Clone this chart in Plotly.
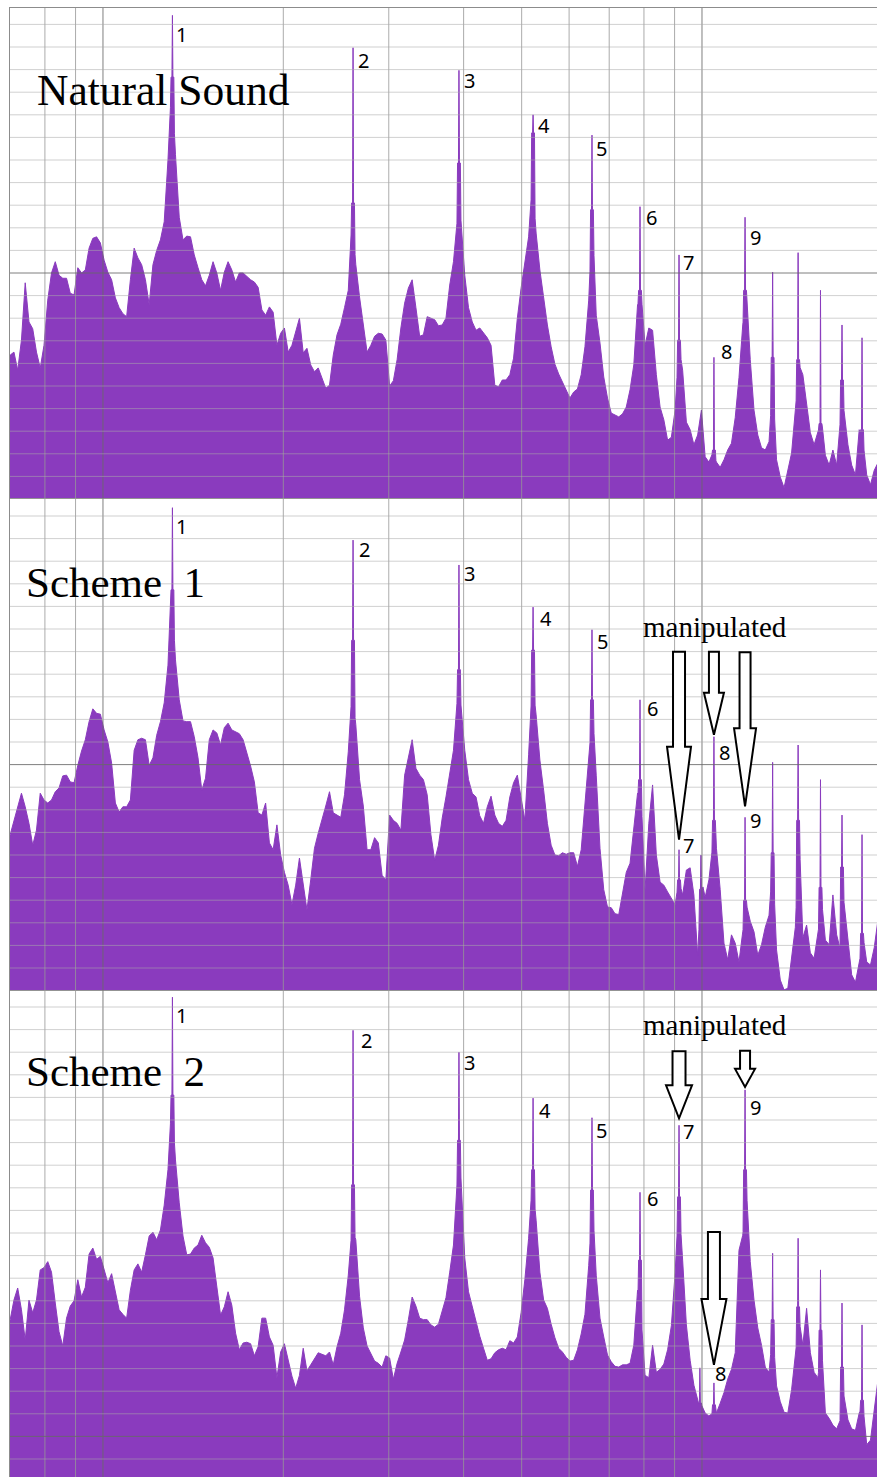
import numpy as np
import plotly.graph_objects as go

# ---------------------------------------------------------------- data
# analysis bins of the spectrum: quarter-semitone steps starting at 70 Hz
bin_hz = 70.0 * 2.0 ** (np.arange(232) / 48.0)

natural_db = [
    -46.9, -46.5, -48.9, -44.9, -37.3, -42.5, -43.4, -46.5, -48.6, -45.6,
    -39.6, -36.0, -34.5, -36.3, -36.7, -36.7, -38.7, -38.9, -35.3, -36.0,
    -35.6, -32.7, -31.4, -31.2, -32.0, -34.3, -35.9, -36.9, -39.3, -40.6,
    -41.4, -41.8, -36.9, -32.7, -34.0, -34.9, -36.9, -40.2, -34.9, -33.0,
    -31.6, -29.2, -21.0, -10.4, -20.3, -28.6, -31.6, -31.1, -31.2, -33.6,
    -35.3, -36.9, -37.7, -36.3, -34.5, -36.0, -38.3, -35.9, -34.5, -35.6,
    -37.2, -36.0, -36.0, -36.5, -36.9, -37.2, -37.9, -40.9, -41.6, -40.5,
    -41.2, -45.6, -44.0, -43.3, -46.5, -45.6, -43.8, -42.0, -46.6, -46.0,
    -48.2, -49.1, -48.6, -49.9, -51.3, -50.9, -46.9, -44.2, -42.8, -40.6,
    -38.3, -28.3, -34.9, -39.2, -42.9, -46.5, -45.6, -44.4, -44.0, -44.1,
    -44.9, -51.0, -50.3, -47.5, -43.3, -40.0, -38.0, -36.9, -40.6, -44.4,
    -44.2, -41.8, -42.0, -42.2, -43.0, -42.9, -42.0, -37.6, -34.5, -29.0,
    -29.0, -36.3, -40.6, -42.5, -43.6, -43.3, -44.0, -44.6, -45.6, -50.9,
    -51.1, -50.2, -50.2, -49.5, -47.3, -42.0, -38.0, -34.9, -31.2, -23.7,
    -30.7, -35.6, -39.6, -42.9, -45.8, -48.1, -49.4, -50.5, -51.5, -52.6,
    -51.8, -51.4, -49.5, -45.8, -39.6, -28.3, -41.6, -45.3, -49.8, -52.6,
    -54.6, -54.9, -55.1, -54.7, -53.8, -51.5, -48.2, -40.2, -38.9, -45.6,
    -43.3, -43.6, -49.5, -53.8, -55.5, -58.2, -57.8, -54.2, -45.6, -48.9,
    -55.8, -56.8, -58.8, -57.5, -54.2, -60.4, -61.1, -59.9, -61.1, -61.8,
    -60.8, -59.5, -58.6, -55.2, -49.9, -42.9, -38.3, -47.5, -54.2, -57.5,
    -59.2, -59.5, -58.4, -50.2, -60.8, -63.1, -64.5, -62.4, -59.9, -54.2,
    -48.2, -49.5, -53.5, -57.2, -58.8, -57.1, -55.5, -60.2, -61.5, -59.5,
    -61.5, -55.5, -54.2, -58.8, -61.5, -62.8, -56.8, -58.2, -62.8, -64.1,
    -62.2, -61.2,
]

scheme1_db = [
    -45.3, -43.4, -41.5, -39.8, -41.6, -43.8, -46.7, -44.7, -39.8, -40.7,
    -41.1, -40.7, -39.6, -39.1, -37.5, -37.4, -38.3, -38.4, -36.1, -34.2,
    -32.7, -30.3, -28.6, -29.2, -29.3, -31.4, -33.0, -35.8, -41.1, -42.3,
    -41.6, -41.6, -40.7, -34.1, -32.7, -32.5, -32.7, -36.1, -35.1, -32.1,
    -30.3, -27.8, -22.8, -12.8, -22.1, -27.4, -30.2, -30.3, -30.3, -32.3,
    -35.1, -39.4, -37.8, -32.7, -31.4, -31.8, -33.4, -31.1, -30.5, -31.4,
    -31.7, -31.9, -32.7, -34.3, -36.2, -38.3, -42.4, -42.7, -41.1, -46.4,
    -47.3, -44.0, -48.0, -50.3, -52.0, -54.6, -52.0, -48.4, -52.0, -55.3,
    -51.3, -47.1, -45.1, -43.1, -41.5, -39.6, -42.4, -42.7, -43.0, -40.0,
    -34.3, -26.1, -30.7, -38.0, -41.5, -47.3, -47.3, -45.7, -46.4, -50.7,
    -51.3, -42.7, -43.4, -43.8, -44.7, -37.4, -35.0, -32.7, -36.5, -37.4,
    -38.0, -40.0, -45.3, -48.7, -46.7, -43.1, -40.3, -37.4, -34.1, -27.4,
    -28.1, -34.1, -38.0, -39.8, -40.3, -42.8, -43.8, -41.6, -40.2, -42.7,
    -43.8, -44.2, -43.4, -40.3, -38.4, -37.4, -40.4, -43.4, -34.7, -24.8,
    -29.4, -35.4, -39.4, -43.8, -46.7, -48.0, -48.1, -47.7, -47.9, -47.7,
    -47.7, -49.5, -47.3, -41.4, -35.7, -28.1, -37.4, -47.1, -52.6, -54.9,
    -55.0, -55.8, -55.9, -53.3, -50.3, -49.1, -44.4, -39.8, -40.7, -52.6,
    -43.8, -38.7, -48.0, -51.6, -52.0, -52.9, -53.7, -54.6, -51.3, -53.3,
    -50.0, -49.7, -53.3, -61.3, -51.3, -53.6, -51.3, -46.7, -47.1, -52.6,
    -59.7, -61.9, -58.6, -59.7, -62.2, -58.2, -54.6, -56.8, -58.2, -61.3,
    -59.9, -57.6, -56.0, -48.7, -60.6, -64.6, -65.9, -65.7, -61.7, -57.6,
    -44.7, -59.0, -57.3, -61.0, -61.7, -58.6, -54.0, -59.3, -59.9, -53.3,
    -58.6, -60.6, -54.0, -59.0, -63.9, -64.9, -62.6, -58.6, -62.2, -62.6,
    -60.3, -56.6,
]

scheme2_db = [
    -20.5, -17.9, -16.3, -19.2, -23.2, -17.9, -19.6, -17.9, -13.9, -13.6,
    -12.8, -14.2, -18.3, -22.1, -24.0, -20.3, -18.7, -18.0, -15.2, -17.5,
    -16.2, -11.8, -11.0, -12.5, -12.1, -13.9, -15.6, -14.4, -16.7, -19.2,
    -19.8, -20.3, -16.6, -13.9, -13.1, -14.2, -11.9, -9.4, -8.9, -9.9,
    -8.6, -5.3, -0.6, 8.7, 0.7, -5.0, -9.4, -11.9, -11.8, -11.0,
    -10.6, -9.3, -10.3, -10.9, -12.3, -16.2, -19.9, -18.8, -16.8, -18.6,
    -22.3, -24.5, -23.6, -23.5, -23.7, -25.3, -24.1, -20.3, -20.3, -22.8,
    -23.9, -28.2, -24.8, -23.7, -25.9, -28.0, -29.6, -27.9, -24.3, -27.3,
    -26.5, -25.6, -24.9, -25.1, -25.3, -24.8, -26.5, -24.1, -22.3, -19.2,
    -14.6, -8.3, -9.9, -17.4, -21.6, -24.0, -25.1, -26.0, -26.3, -26.8,
    -25.3, -25.6, -28.4, -26.3, -24.8, -23.2, -20.5, -17.5, -18.7, -20.3,
    -20.5, -20.5, -21.2, -21.5, -21.1, -19.2, -17.6, -14.2, -10.6, -2.0,
    -1.7, -12.3, -16.8, -18.8, -20.8, -22.7, -24.3, -25.9, -25.7, -24.9,
    -24.5, -24.3, -24.5, -23.3, -23.6, -22.8, -19.6, -15.2, -9.7, -2.0,
    -7.3, -14.2, -17.9, -19.0, -21.1, -22.9, -24.3, -24.8, -25.5, -26.0,
    -25.9, -24.5, -22.4, -19.8, -13.3, -4.6, -14.6, -20.3, -22.8, -25.2,
    -26.1, -26.7, -26.8, -26.5, -26.5, -26.3, -23.9, -16.6, -20.5, -27.9,
    -28.2, -23.9, -27.5, -27.1, -26.4, -24.5, -21.3, -14.3, -4.6, -12.6,
    -21.2, -25.9, -29.2, -31.2, -31.8, -32.9, -33.3, -32.9, -32.9, -31.6,
    -30.2, -28.4, -27.1, -24.9, -11.3, -9.3, -3.3, -12.8, -17.9, -21.6,
    -23.9, -26.8, -27.5, -21.9, -29.3, -31.4, -32.8, -32.9, -29.8, -25.2,
    -20.5, -23.9, -19.0, -24.9, -27.5, -28.2, -23.9, -32.9, -33.6, -34.5,
    -35.0, -33.8, -30.5, -33.8, -35.0, -35.2, -32.9, -31.8, -37.1, -36.5,
    -32.5, -28.5,
]

# narrow harmonic lines (partials 1..14)
harmonic_no = list(range(1, 15))
harmonic_hz = [130.6, 261.5, 392.9, 522.4, 655.2, 788.0, 915.5,
               1047.0, 1180.0, 1312.0, 1447.0, 1577.0, 1713.0, 1850.0]
natural_peak_db = [-1.8, -6.1, -9.1, -15.0, -17.7, -27.2, -33.6,
                   -47.2, -28.6, -35.9, -33.3, -38.3, -42.9, -44.6]
natural_base_db = [-10.0, -26.7, -21.4, -17.4, -27.6, -38.3, -44.9,
                   -59.5, -38.3, -47.2, -47.5, -56.8, -50.2, -56.8]
scheme1_peak_db = [-1.9, -6.2, -9.5, -15.1, -18.1, -27.4, -47.3,
                   -32.3, -43.0, -35.7, -33.4, -38.0, -42.7, -45.3]
scheme1_base_db = [-12.8, -19.5, -23.4, -20.8, -27.4, -38.0, -51.3,
                   -43.4, -54.0, -47.7, -43.4, -52.3, -49.6, -58.4]
scheme2_peak_db = [22.3, 17.9, 15.0, 8.9, 6.3, -3.6, 5.3,
                   -28.9, 10.0, -11.7, -9.7, -13.9, -18.3, -21.2]
scheme2_base_db = [9.3, -2.6, 3.3, -0.6, -3.3, -12.6, -4.2,
                   -31.8, -0.6, -20.5, -18.8, -21.9, -26.8, -31.2]
# other isolated narrow lines
natural_extra_hz, natural_extra_db = [], []
scheme1_extra_hz, scheme1_extra_db = [996.0], [-48.0]
scheme2_extra_hz, scheme2_extra_db = [992.0], [-26.9]

labelled = list(range(1, 10))          # partials that carry a number
manipulated = {2: [7, 8, 9], 3: [7, 9, 8]}

grid_hz = [80, 90, 100, 200, 300, 400, 500, 600, 700, 800, 900, 1000]
major_hz = [100, 1000]
DB_STEP, MAJOR_DB = 3.0, -36.0

# ---------------------------------------------------------------- layout constants
W, H = 877, 1477
ML, MR, MT, MB = 10, 0, 8, 0
F_LO, F_HI = 69.95, 1959.6
PLOT_W = W - ML - MR
DEC_PX = (np.log10(F_HI) - np.log10(F_LO)) / PLOT_W   # decades per pixel
DB_PX = DB_STEP / 22.6                                   # dB per pixel

PURPLE = "#8A3BBE"
H_GRID = "rgba(170,170,170,0.55)"
V_GRID = "rgba(150,150,150,0.80)"
MAJ_GRID = "rgba(105,105,105,0.85)"
BORDER = "#8c8c8c"


def paper_x(px):
    return (px - ML) / PLOT_W


def paper_y(py):
    return (H - py) / (H - MT - MB)


def spectrum(levels, pk_hz, pk_db, pk_base):
    lf = np.log10(bin_hz)
    lv = np.asarray(levels, dtype=float)
    assert lv.size == lf.size, (lv.size, lf.size)
    cs = np.log10(np.asarray(pk_hz, dtype=float))
    keep = np.ones(lf.size, dtype=bool)
    for c in cs:
        keep &= np.abs(lf - c) > 2.3 * DEC_PX
    xs, ys = list(lf[keep]), list(lv[keep])
    offs = [-2.0, -1.4, -0.5, 0.0, 0.5, 1.4, 2.0]
    for c, top, base in zip(cs, pk_db, pk_base):
        def env(o):
            return float(np.interp(c + o * DEC_PX, lf, lv))
        b = max(base, env(0.0))
        vals = [env(-2.0), b, b, top, b, b, env(2.0)]
        for o, v in zip(offs, vals):
            xs.append(c + o * DEC_PX)
            ys.append(v)
    order = np.argsort(xs)
    return (10 ** np.asarray(xs)[order]).tolist(), np.asarray(ys)[order].tolist()


panels = [
    dict(k=1, levels=natural_db, peak=natural_peak_db, base=natural_base_db,
         ex_hz=natural_extra_hz, ex_db=natural_extra_db,
         floor_db=-66.0, top_px=8.0, floor_px=499.0, cut_px=499.0,
         title="Natural Sound", title_px=(35, 90), title_size=43.5,
         labels_px=[(181, 35), (363, 60), (470, 80), (544, 125), (601, 148),
                    (651, 218), (688, 262), (726, 352), (755, 237)]),
    dict(k=2, levels=scheme1_db, peak=scheme1_peak_db, base=scheme1_base_db,
         ex_hz=scheme1_extra_hz, ex_db=scheme1_extra_db,
         floor_db=-66.0, top_px=499.0, floor_px=990.6, cut_px=990.6,
         title="Scheme\u00a0\u00a01", title_px=(24, 583), title_size=43,
         labels_px=[(181, 527), (364, 549), (470, 573), (546, 618), (602, 641),
                    (652, 708), (688, 845), (724, 752), (755, 820)]),
    dict(k=3, levels=scheme2_db, peak=scheme2_peak_db, base=scheme2_base_db,
         ex_hz=scheme2_extra_hz, ex_db=scheme2_extra_db,
         floor_db=-42.0, top_px=990.6, floor_px=1481.6, cut_px=1477.0,
         title="Scheme\u00a0\u00a02", title_px=(24, 1071), title_size=43,
         labels_px=[(181, 1015), (366, 1040), (470, 1062), (545, 1110), (601, 1130),
                    (652, 1198), (688, 1131), (720, 1373), (755, 1107)]),
]

# arrow geometry in pixels relative to the line top it points at:
# (tip gap, head base, shaft top, shaft half width, head half width)
arrow_geom = {
    2: {7: (10, 103, 198, 6, 12), 8: (2, 44, 85, 5, 10), 9: (11, 89, 165, 5.5, 11)},
    3: {7: (7, 40, 74, 6.5, 13), 9: (3, 21, 39, 5, 10), 8: (18, 84, 151, 6, 12.5)},
}
manip_px = {2: (714.5, 627), 3: (714.5, 1025)}

fig = go.Figure()
layout = dict(width=W, height=H, autosize=False,
              margin=dict(l=ML, r=MR, t=MT, b=MB),
              paper_bgcolor="white", plot_bgcolor="white", showlegend=False)
shapes, annotations = [], []

for p in panels:
    k = p["k"]
    sfx = "" if k == 1 else str(k)
    xa, ya = "x" + sfx, "y" + sfx
    y_top = p["floor_db"] + (p["floor_px"] - p["top_px"]) * DB_PX
    y_bot = p["floor_db"] + (p["floor_px"] - p["cut_px"]) * DB_PX

    hz = list(harmonic_hz) + list(p["ex_hz"])
    top = list(p["peak"]) + list(p["ex_db"])
    base = list(p["base"]) + [-999.0] * len(p["ex_hz"])
    xs, ys = spectrum(p["levels"], hz, top, base)
    low = y_bot - 50
    fig.add_trace(go.Scatter(
        x=[F_LO * 0.98, F_LO * 0.98] + xs + [F_HI * 1.02, F_HI * 1.02],
        y=[low, ys[0]] + ys + [ys[-1], low],
        mode="lines", fill="toself", fillcolor=PURPLE,
        line=dict(width=0, color=PURPLE), hoverinfo="skip",
        xaxis=xa, yaxis=ya))
    fig.add_trace(go.Scatter(
        x=xs, y=ys, mode="lines", line=dict(width=1, color=PURPLE),
        hoverinfo="skip", xaxis=xa, yaxis=ya))

    layout["xaxis" + sfx] = dict(
        type="log", range=[np.log10(F_LO), np.log10(F_HI)], domain=[0, 1],
        anchor=ya, side="top", showgrid=False, zeroline=False,
        showticklabels=False, ticks="", showline=True, linecolor=BORDER,
        linewidth=1)
    layout["yaxis" + sfx] = dict(
        range=[y_bot, y_top],
        domain=[paper_y(p["cut_px"]), paper_y(p["top_px"])],
        anchor=xa, showgrid=False, zeroline=False, showticklabels=False,
        ticks="", showline=True, linecolor=BORDER, linewidth=1)

    # grid drawn over the spectrum
    for f in grid_hz:
        shapes.append(dict(type="line", xref=xa, yref=ya + " domain",
                           x0=f, x1=f, y0=0, y1=1, layer="above",
                           line=dict(color=MAJ_GRID if f in major_hz else V_GRID,
                                     width=1)))
    v = p["floor_db"]
    while v < y_top - 0.5:
        if v >= y_bot - 1e-6:
            shapes.append(dict(type="line", xref=xa + " domain", yref=ya,
                               x0=0, x1=1, y0=v, y1=v, layer="above",
                               line=dict(color=MAJ_GRID if abs(v - MAJOR_DB) < 1e-6
                                         else H_GRID, width=1)))
        v += DB_STEP

    # title
    tx, ty = p["title_px"]
    annotations.append(dict(
        text=p["title"], xref="paper", yref="paper", x=paper_x(tx), y=paper_y(ty),
        xanchor="left", yanchor="middle", showarrow=False,
        font=dict(family="Liberation Serif, Times New Roman, serif",
                  size=p["title_size"], color="black")))

    # partial numbers
    for n, (lx, ly) in zip(labelled, p["labels_px"]):
        annotations.append(dict(
            text=str(n), xref="paper", yref="paper", x=paper_x(lx), y=paper_y(ly),
            xanchor="center", yanchor="middle", showarrow=False,
            font=dict(family="Noto Sans, DejaVu Sans, sans-serif", size=20,
                      color="black")))

    # manipulated partials
    if k in manipulated:
        mx, my = manip_px[k]
        annotations.append(dict(
            text="manipulated", xref="paper", yref="paper",
            x=paper_x(mx), y=paper_y(my), xanchor="center", yanchor="middle",
            showarrow=False,
            font=dict(family="Liberation Serif, Times New Roman, serif",
                      size=29, color="black")))
        for n in manipulated[k]:
            t, hb, st, w, hw = arrow_geom[k][n]
            i = harmonic_no.index(n)
            path = (f"M {-w},{st} L {w},{st} L {w},{hb} L {hw},{hb} L 0,{t} "
                    f"L {-hw},{hb} L {-w},{hb} Z")
            shapes.append(dict(type="path", xref=xa, yref=ya,
                               xsizemode="pixel", ysizemode="pixel",
                               xanchor=harmonic_hz[i], yanchor=p["peak"][i],
                               path=path, fillcolor="white", layer="above",
                               line=dict(color="black", width=2)))

layout["shapes"] = shapes
layout["annotations"] = annotations
fig.update_layout(**layout)

fig.write_html("out.html",
               config={"displayModeBar": False, "staticPlot": True},
               post_script="document.body.style.margin='0';"
                           "document.body.style.overflow='hidden';")
